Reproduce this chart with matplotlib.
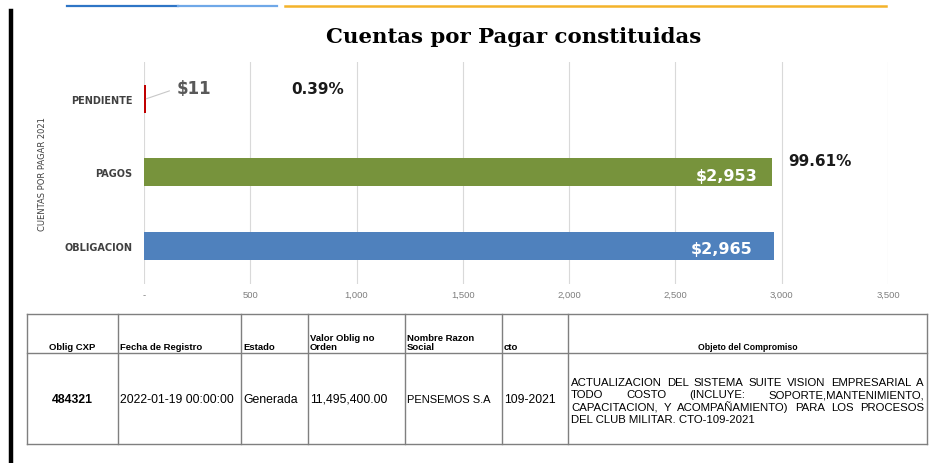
import matplotlib
matplotlib.use("Agg")
import matplotlib.pyplot as plt
from matplotlib.lines import Line2D

# ---------------- data ----------------
categories = ["OBLIGACION", "PAGOS", "PENDIENTE"]
values = [2965, 2953, 11]
bar_colors = ["#4F81BD", "#77933C", "#C00000"]
value_labels = ["$2,965", "$2,953", "$11"]
pct_labels = {"PAGOS": "99.61%", "PENDIENTE": "0.39%"}
xticks = [0, 500, 1000, 1500, 2000, 2500, 3000, 3500]
xtick_labels = ["-", "500", "1,000", "1,500", "2,000", "2,500", "3,000", "3,500"]
title = "Cuentas por Pagar constituidas"
ylabel = "CUENTAS POR PAGAR 2021"

table_headers = ["Oblig CXP", "Fecha de Registro", "Estado", "Valor Oblig no\nOrden",
                 "Nombre Razon\nSocial", "cto", "Objeto del Compromiso"]
table_row = ["484321", "2022-01-19 00:00:00", "Generada", "11,495,400.00",
             "PENSEMOS S.A", "109-2021"]
objeto_lines = ["ACTUALIZACION DEL SISTEMA SUITE VISION EMPRESARIAL A",
                "TODO COSTO (INCLUYE: SOPORTE,MANTENIMIENTO,",
                "CAPACITACION, Y ACOMPAÑAMIENTO) PARA LOS PROCESOS",
                "DEL CLUB MILITAR. CTO-109-2021"]

# ---------------- figure ----------------
W, H = 934, 464
fig = plt.figure(figsize=(W / 100, H / 100), dpi=100)
fig.patch.set_facecolor("white")

# overlay axes in pixel coordinates (for decorations and the table)
ov = fig.add_axes([0, 0, 1, 1])
ov.set_xlim(0, W)
ov.set_ylim(H, 0)
ov.axis("off")
ov.set_zorder(0)

# decorations: left black bar and top colored lines
ov.add_line(Line2D([10.5, 10.5], [12, H], color="black", lw=3.2))
ov.add_line(Line2D([67, 178], [7, 7], color="#2E75C6", lw=1.6))
ov.add_line(Line2D([178, 277], [7, 7], color="#6FA8E8", lw=1.6))
ov.add_line(Line2D([285, 886], [7, 7], color="#F4B32A", lw=1.8))

# title
ov.text(514, 37, title, ha="center", va="center", fontsize=15.3,
        fontweight="bold", family="DejaVu Serif", color="black")

# ---------------- bar chart ----------------
ax = fig.add_axes([144 / W, 1 - 285 / H, 744 / W, 222 / H])
ax.set_zorder(2)
ax.patch.set_alpha(0)
ypos = list(range(len(categories)))
ax.barh(ypos, values, height=0.38, color=bar_colors, zorder=3)
ax.set_xlim(0, 3500)
ax.set_ylim(-0.52, 2.5)
ax.set_xticks(xticks)
ax.set_xticklabels(xtick_labels, fontsize=6.8, color="#7F7F7F", family="Liberation Sans")
ax.set_yticks(ypos)
ax.set_yticklabels(categories, fontsize=7, fontweight="bold", color="#404040",
                   family="DejaVu Sans")
ax.tick_params(axis="x", length=0, pad=4.5)
ax.tick_params(axis="y", length=0, pad=8.5)
ax.grid(axis="x", color="#D9D9D9", lw=0.8, zorder=0)
for s in ax.spines.values():
    s.set_visible(False)

ax.text(-0.137, 0.5, ylabel, transform=ax.transAxes, rotation=90, ha="center",
        va="center", fontsize=6.0, color="#404040", family="Liberation Sans Narrow")

# value labels
for i, (cat, v, lab) in enumerate(zip(categories, values, value_labels)):
    if v > 500:
        ax.annotate(lab, xy=(v, i), xytext=(-10 if cat == "PAGOS" else -16, -2),
                    textcoords="offset points", ha="right", va="center",
                    fontsize=11.5, fontweight="bold", color="white", zorder=5)
    else:
        ax.annotate(lab, xy=(v, i), xytext=(22, 7.5),
                    textcoords="offset points", ha="left", va="center",
                    fontsize=12, fontweight="bold", color="#595959", zorder=5,
                    arrowprops=dict(arrowstyle="-", color="#C8C8C8", lw=0.8,
                                    relpos=(0, 0.5), shrinkA=3.5, shrinkB=0))
    if cat in pct_labels:
        if cat == "PENDIENTE":
            ax.annotate(pct_labels[cat], xy=(v, i), xytext=(104.5, 7.5),
                        textcoords="offset points", ha="left", va="center",
                        fontsize=11, fontweight="bold", color="#1A1A1A")
        else:
            ax.annotate(pct_labels[cat], xy=(v, i), xytext=(12, 8.5),
                        textcoords="offset points", ha="left", va="center",
                        fontsize=11, fontweight="bold", color="#1A1A1A")

# ---------------- table ----------------
col_x = [27, 118, 241, 308, 405, 502, 568, 927]
top, mid, bot = 315, 354, 445
lc = "#7F7F7F"
for x in col_x:
    ov.add_line(Line2D([x, x], [top, bot], color=lc, lw=1.0))
for y in (top, mid, bot):
    ov.add_line(Line2D([col_x[0], col_x[-1]], [y, y], color=lc, lw=1.0))

hfont = dict(fontsize=6.8, fontweight="bold", family="Liberation Sans", color="black")
for j, htxt in enumerate(table_headers):
    if j == 0:
        ov.text((col_x[0] + col_x[1]) / 2, 352, htxt, ha="center", va="bottom", **hfont)
    elif j == len(table_headers) - 1:
        ov.text((col_x[j] + col_x[j + 1]) / 2, 352, htxt, ha="center", va="bottom",
                fontsize=6.3, fontweight="bold", family="Liberation Sans", color="black")
    else:
        ov.text(col_x[j] + 2, 352, htxt, ha="left", va="bottom", linespacing=1.05, **hfont)

dfont = dict(family="Liberation Sans", color="black")
for j, dtxt in enumerate(table_row):
    if j == 0:
        ov.text((col_x[0] + col_x[1]) / 2, 400, dtxt, ha="center", va="center",
                fontweight="bold", fontsize=8.8, **dfont)
    elif dtxt.isupper():
        ov.text(col_x[j] + 2, 400, dtxt, ha="left", va="center", fontsize=8.0, **dfont)
    else:
        ov.text(col_x[j] + 2, 400, dtxt, ha="left", va="center", fontsize=8.8, **dfont)

# justified paragraph in last column
fig.canvas.draw()
renderer = fig.canvas.get_renderer()
x0, x1 = col_x[6] + 3, col_x[7] - 3
ofont = dict(fontsize=8.2, family="Liberation Sans", color="black")
for k, line in enumerate(objeto_lines):
    y = 386 + 12.3 * k
    words = line.split(" ")
    if k == len(objeto_lines) - 1:
        ov.text(x0, y, line, ha="left", va="baseline", **ofont)
        continue
    arts = [ov.text(0, y, w, ha="left", va="baseline", **ofont) for w in words]
    widths = [a.get_window_extent(renderer).width for a in arts]
    gap = (x1 - x0 - sum(widths)) / max(len(words) - 1, 1)
    xc = x0
    for a, wd in zip(arts, widths):
        a.set_x(xc)
        xc += wd + gap

fig.savefig("out.png", dpi=100, facecolor="white")
